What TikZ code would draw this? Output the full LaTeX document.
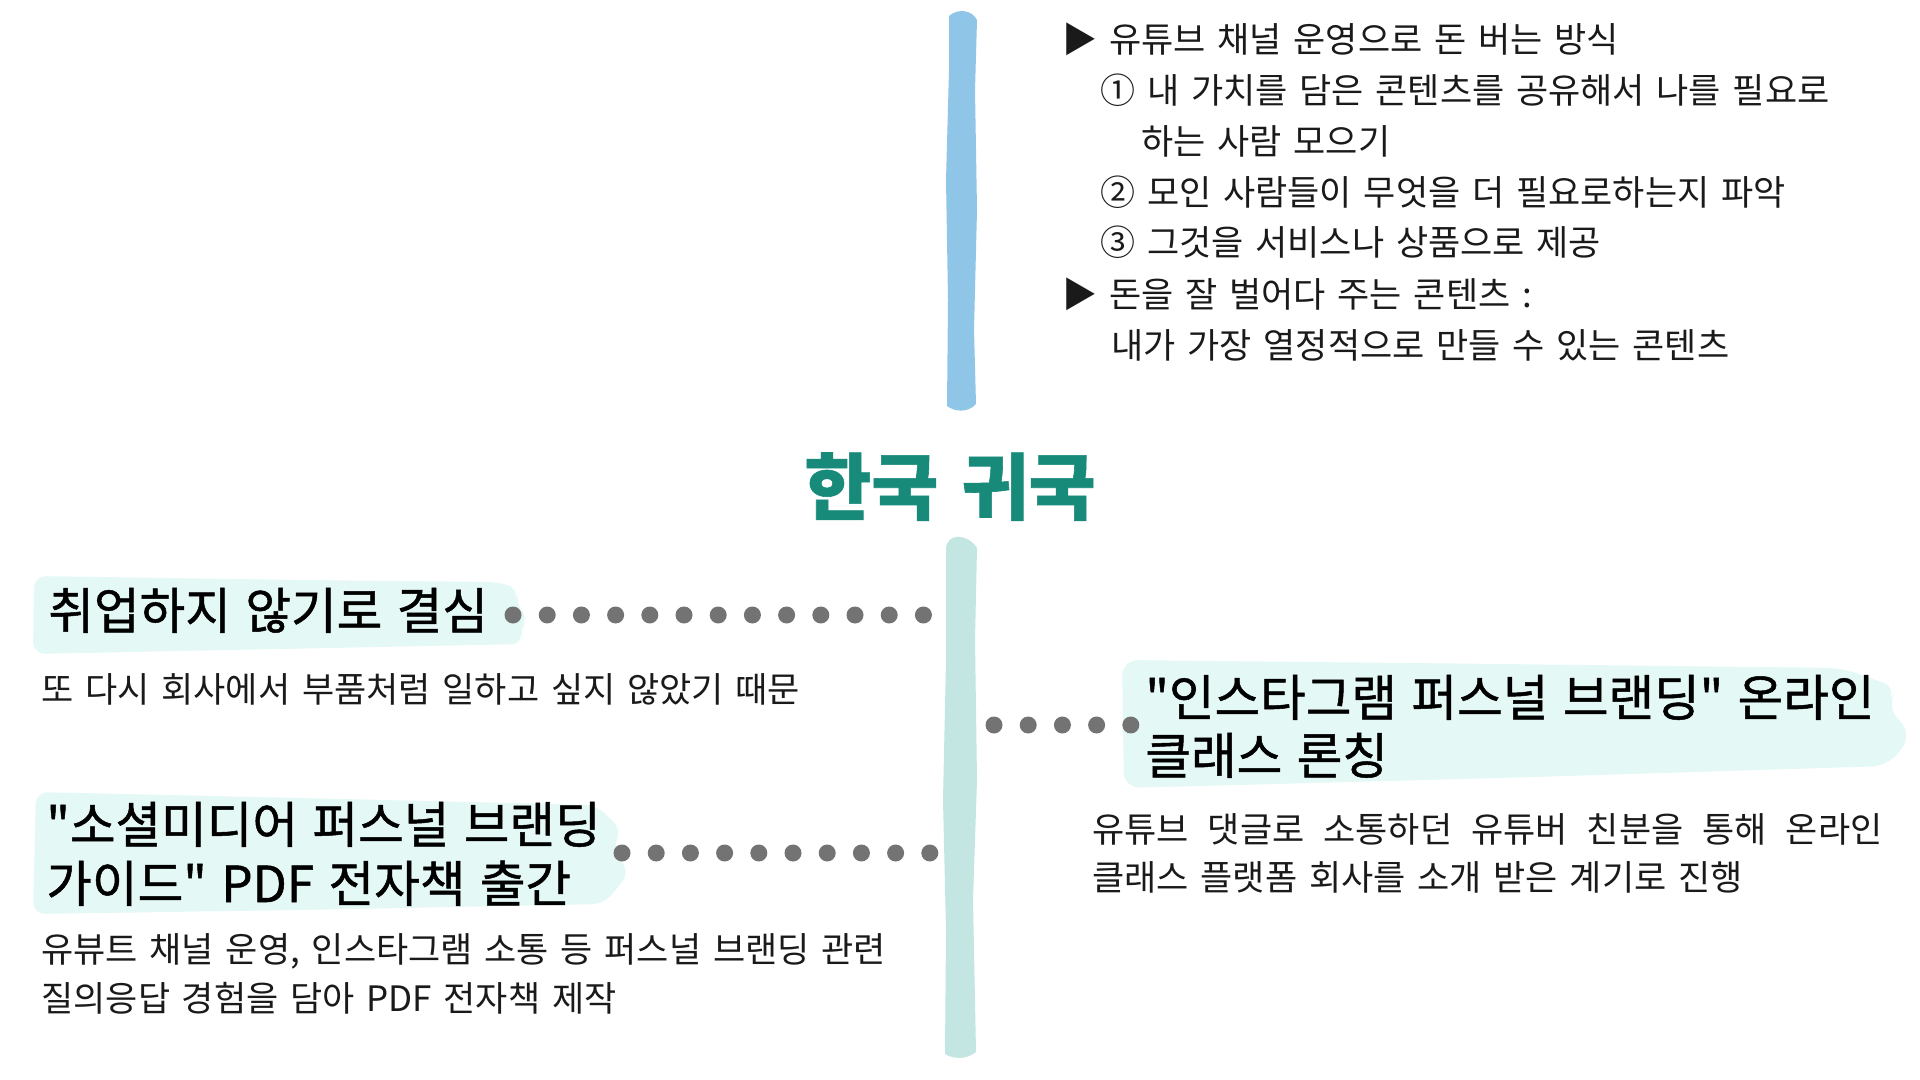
\documentclass[tikz,border=0pt]{standalone}
\usepackage{fontspec}
\setmainfont{Noto Sans CJK KR}[WordSpace=1.5]
\newfontfamily\headfont{Noto Sans CJK KR}[WordSpace=1.3,FakeBold=1]
\newfontfamily\titlefont{Noto Sans CJK KR}[WordSpace=1.4,FakeBold=0.8]
\usepackage{tikz}
\usetikzlibrary{calc}
\definecolor{barblue}{HTML}{8FC6E8}
\definecolor{barteal}{HTML}{C4E6E3}
\definecolor{hlmint}{HTML}{E4F8F5}
\definecolor{titleteal}{HTML}{178A7A}
\definecolor{dotgray}{HTML}{737373}
\definecolor{inkblack}{HTML}{1A1A1A}
\tikzset{
  bodytext/.style={anchor=base west,inner sep=0pt,text=inkblack,font=\fontsize{17.5pt}{22pt}\selectfont},
  headtext/.style={anchor=base west,inner sep=0pt,text=black,font=\headfont\fontsize{24.8pt}{30pt}\selectfont},
  dotrow/.style={dotgray,line width=8.5pt,line cap=round,dash pattern=on 0pt off 17.1pt},
}
\begin{document}
\begin{tikzpicture}[x=0.5pt,y=-0.5pt]
\fill[white] (0,0) rectangle (1920,1080);
\useasboundingbox (0,0) rectangle (1920,1080);
% =============================================
% - bars.
\fill[barblue] (949,16) .. controls (958,8) and (972,10) .. (977,20) -- (975,90) -- (977,210) -- (974,330) -- (976,404) .. controls (968,413) and (955,412) .. (947,406) -- (948,300) -- (946,180) -- (949,70) -- cycle;
\fill[barteal] (946,548) .. controls (948,532) and (968,534) .. (977,548) -- (975,640) -- (977,780) -- (973,900) -- (976,1052) .. controls (966,1060) and (953,1059) .. (945,1054) -- (946,930) -- (943,800) -- (946,660) -- cycle;
% - highlights.
\fill[hlmint,rounded corners=6pt] (34,576) -- (300,580) -- (500,582) -- (520,590) -- (514,604) -- (530,618) -- (518,630) -- (524,644) -- (330,648) -- (130,652) -- (33,654) -- cycle;
\fill[hlmint,rounded corners=6pt] (36,792) -- (300,798) -- (596,805) -- (622,830) -- (612,850) -- (630,872) -- (604,904) -- (300,910) -- (33,914) -- cycle;
\fill[hlmint,rounded corners=8pt] (1122,660) -- (1500,664) -- (1842,668) -- (1898,688) -- (1886,705) -- (1912,735) -- (1888,766) -- (1500,778) -- (1124,788) -- cycle;
% =============================================
% title
\node[anchor=base,inner sep=0pt,text=titleteal,font=\titlefont\bfseries\fontsize{36.4pt}{44pt}\selectfont] (title) at (950,514) {한국 귀국};
%
% - top right list.
\node[bodytext] (l1) at (1062,53) {▶ 유튜브 채널 운영으로 돈 버는 방식};
\node[bodytext] (l2) at (1100,104) {① 내 가치를 담은 콘텐츠를 공유해서 나를 필요로};
\node[bodytext] (l3) at (1141,155) {하는 사람 모으기};
\node[bodytext] (l4) at (1100,206) {② 모인 사람들이 무엇을 더 필요로하는지 파악};
\node[bodytext] (l5) at (1100,256) {③ 그것을 서비스나 상품으로 제공};
\node[bodytext] (l6) at (1062,307) {▶ 돈을 잘 벌어다 주는 콘텐츠 :};
\node[bodytext] (l7) at (1111,358) {내가 가장 열정적으로 만들 수 있는 콘텐츠};
%
% - left, first step.
\node[headtext] (quit) at (48,629) {취업하지 않기로 결심};
\node[bodytext] (quitnote) at (41,702) {또 다시 회사에서 부품처럼 일하고 싶지 않았기 때문};
%
% - left, second step.
\node[headtext] (ebooka) at (46,843) {"소셜미디어 퍼스널 브랜딩};
\node[headtext] (ebookb) at (46,902) {가이드" PDF 전자책 출간};
\node[bodytext] (ebooknotea) at (41,962) {유뷰트 채널 운영, 인스타그램 소통 등 퍼스널 브랜딩 관련};
\node[bodytext] (ebooknoteb) at (41,1011) {질의응답 경험을 담아 PDF 전자책 제작};
%
% - right, third step.
\node[headtext] (classa) at (1145,716) {"인스타그램 퍼스널 브랜딩" 온라인};
\node[headtext] (classb) at (1145,774) {클래스 론칭};
\node[bodytext] (classnotea) at (1092,842) {\makebox[395pt][s]{유튜브 댓글로 소통하던 유튜버 친분을 통해 온라인}};
\node[bodytext] (classnoteb) at (1092,890) {클래스 플랫폼 회사를 소개 받은 계기로 진행};
% =============================================
% - dotted links to the bar.
\coordinate (quitend) at (513,615);
\coordinate (bar1) at (925,615);
\coordinate (ebookend) at (622,853);
\coordinate (bar2) at (933,853);
\coordinate (bar3) at (994,725);
\coordinate (classend) at (1133,725);
\draw[dotrow] (quitend) -- (bar1);
\draw[dotrow] (ebookend) -- (bar2);
\draw[dotrow] (bar3) -- (classend);
% =============================================
\end{tikzpicture}
\end{document}
